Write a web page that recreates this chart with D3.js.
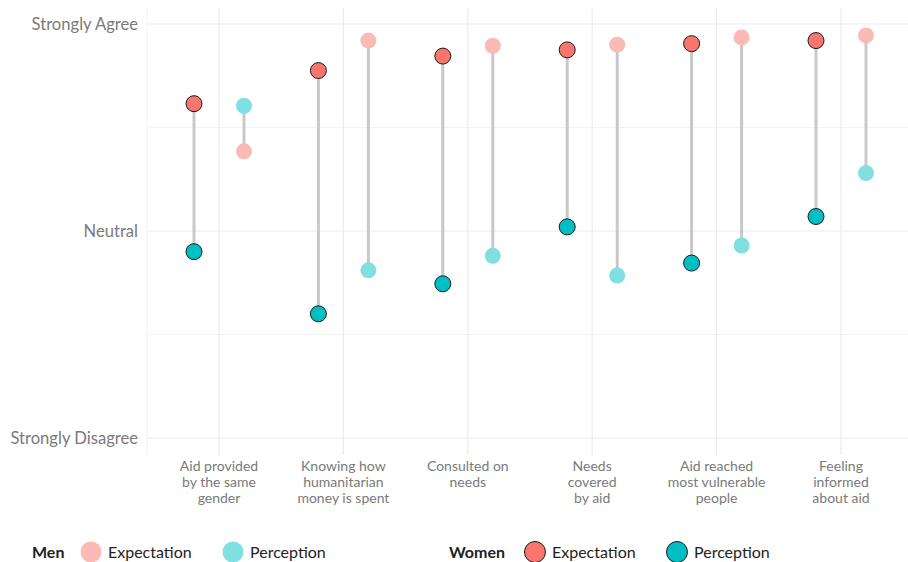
<!DOCTYPE html>
<html>
<head>
<meta charset="utf-8">
<script src="https://cdn.jsdelivr.net/npm/d3@7"></script>
<style>
  body { margin: 0; background: #fff; }
  text { font-family: Lato, "Open Sans", sans-serif; }
</style>
</head>
<body>
<div id="container"></div>
<script>
// chart data (1 = Strongly Disagree, 3 = Neutral, 5 = Strongly Agree)
var categories = [
  ["Aid provided", "by the same", "gender"],
  ["Knowing how", "humanitarian", "money is spent"],
  ["Consulted on", "needs"],
  ["Needs", "covered", "by aid"],
  ["Aid reached", "most vulnerable", "people"],
  ["Feeling", "informed", "about aid"]
];
var womenExpectation = [4.23, 4.55, 4.69, 4.75, 4.81, 4.84];
var womenPerception  = [2.80, 2.20, 2.49, 3.04, 2.69, 3.14];
var menExpectation   = [3.77, 4.84, 4.79, 4.80, 4.87, 4.89];
var menPerception    = [4.21, 2.62, 2.76, 2.57, 2.86, 3.56];
var yTicks = [1, 3, 5];
var yTickLabels = ["Strongly Disagree", "Neutral", "Strongly Agree"];
var yMinor = [2, 4];

var w = 908, h = 562;
var svg = d3.select("#container").append("svg")
  .attr("width", w).attr("height", h);

var panel = {left: 147, right: 908, top: 8, bottom: 455};
var keys = categories.map(function(d, i) { return i; });

var x = d3.scalePoint().domain(keys).range([219, 841]);
var y = d3.scaleLinear().domain([1, 5]).range([438, 24]);
var dodge = 25;

var colWomenExp = "#F8766D", colWomenPer = "#00BFC4";
var colMenExp = "#FBBAB6", colMenPer = "#80DFE1";
var gridCol = "#EBEBEB";

// grid
var grid = svg.append("g");
grid.selectAll(".minor").data(yMinor).enter().append("line")
  .attr("x1", panel.left).attr("x2", panel.right)
  .attr("y1", y).attr("y2", y)
  .attr("stroke", gridCol).attr("stroke-width", 0.6);
grid.selectAll(".major").data(yTicks).enter().append("line")
  .attr("x1", panel.left).attr("x2", panel.right)
  .attr("y1", y).attr("y2", y)
  .attr("stroke", gridCol).attr("stroke-width", 1.2);
grid.selectAll(".vert").data(keys).enter().append("line")
  .attr("x1", x).attr("x2", x)
  .attr("y1", panel.top).attr("y2", panel.bottom)
  .attr("stroke", gridCol).attr("stroke-width", 1.2);
grid.append("line")
  .attr("x1", panel.left).attr("x2", panel.left)
  .attr("y1", panel.top).attr("y2", panel.bottom)
  .attr("stroke", "#F2F2F2").attr("stroke-width", 1);

// y labels
svg.append("g").selectAll("text").data(yTicks).enter().append("text")
  .attr("x", 138).attr("y", function(d) { return y(d) + 5.5; })
  .attr("text-anchor", "end")
  .attr("fill", "#7a7a7a").attr("font-size", 16.6)
  .text(function(d, i) { return yTickLabels[i]; });

// x labels
var xl = svg.append("g").selectAll("text").data(keys).enter().append("text")
  .attr("text-anchor", "middle")
  .attr("fill", "#7a7a7a").attr("font-size", 14);
xl.each(function(k) {
  var t = d3.select(this);
  categories[k].forEach(function(line, j) {
    t.append("tspan").attr("x", x(k)).attr("y", 471 + j * 16).text(line);
  });
});

// segments
var seg = svg.append("g");
function segments(a, b, off) {
  seg.selectAll(null).data(keys).enter().append("line")
    .attr("x1", function(k) { return x(k) + off; })
    .attr("x2", function(k) { return x(k) + off; })
    .attr("y1", function(k) { return y(a[k]); })
    .attr("y2", function(k) { return y(b[k]); })
    .attr("stroke", "#C8C8C8").attr("stroke-width", 3);
}
segments(womenExpectation, womenPerception, -dodge);
segments(menExpectation, menPerception, dodge);

// points
var pts = svg.append("g");
function points(vals, off, fill, stroke) {
  pts.selectAll(null).data(keys).enter().append("circle")
    .attr("cx", function(k) { return x(k) + off; })
    .attr("cy", function(k) { return y(vals[k]); })
    .attr("r", 8)
    .attr("fill", fill)
    .attr("stroke", stroke || "none").attr("stroke-width", 1);
}
points(menExpectation, dodge, colMenExp);
points(menPerception, dodge, colMenPer);
points(womenExpectation, -dodge, colWomenExp, "#1a1a1a");
points(womenPerception, -dodge, colWomenPer, "#1a1a1a");

// legend
var legend = svg.append("g");
var ly = 552;
var groups = [
  {title: "Men", tx: 32, items: [
    {label: "Expectation", cx: 91, fill: colMenExp},
    {label: "Perception", cx: 233, fill: colMenPer}]},
  {title: "Women", tx: 449, items: [
    {label: "Expectation", cx: 535, fill: colWomenExp, stroke: "#1a1a1a"},
    {label: "Perception", cx: 677, fill: colWomenPer, stroke: "#1a1a1a"}]}
];
groups.forEach(function(g) {
  legend.append("text")
    .attr("x", g.tx).attr("y", ly + 6)
    .attr("font-size", 16).attr("font-weight", "bold").attr("fill", "#222")
    .text(g.title);
  g.items.forEach(function(it) {
    legend.append("circle")
      .attr("cx", it.cx).attr("cy", ly).attr("r", 10.5)
      .attr("fill", it.fill)
      .attr("stroke", it.stroke || "none").attr("stroke-width", 1);
    legend.append("text")
      .attr("x", it.cx + 17).attr("y", ly + 6)
      .attr("font-size", 16).attr("fill", "#222")
      .text(it.label);
  });
});
</script>
</body>
</html>
